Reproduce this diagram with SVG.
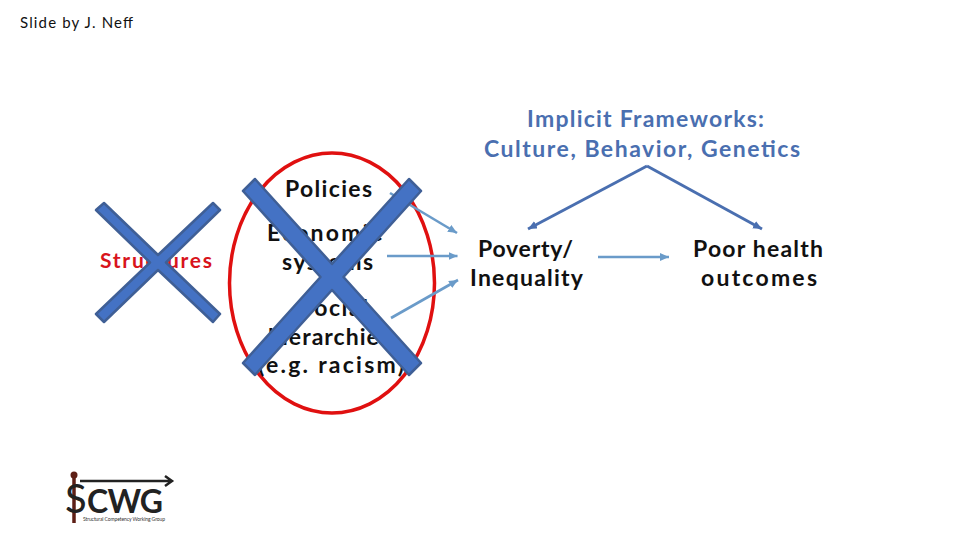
<svg xmlns="http://www.w3.org/2000/svg" width="960" height="540" viewBox="0 0 960 540">
<defs>
<marker id="a" markerUnits="userSpaceOnUse" markerWidth="12" markerHeight="10" refX="9" refY="4" orient="auto"><path d="M0 0L9 4L0 8Z" fill="#6a9bc9"/></marker>
<marker id="b" markerUnits="userSpaceOnUse" markerWidth="12" markerHeight="10" refX="9" refY="4" orient="auto"><path d="M0 0L9 4L0 8Z" fill="#4a6fb0"/></marker>
</defs>
<style>
text{font-family:"Lato","Liberation Sans",sans-serif;text-anchor:start;fill:#111;font-size:23px;font-weight:700}
.f{fill:#4a6fb0;font-size:23px}
.c{fill:#4472c4;stroke:#3f5f96;stroke-width:2.500;stroke-linejoin:round}
.l{fill:none;stroke:#6a9bc9;stroke-width:2.600;marker-end:url(#a)}
.k{fill:none;stroke:#4a6fb0;stroke-width:3;marker-end:url(#b)}
</style>
<rect width="960" height="540" fill="#fff"/>
<g id="credit"><text x="20" y="28" textLength="113" style="font-size:15px;font-weight:400">Slide by J. Neff</text></g>
<g id="frameworks"><text class="f" x="527" y="127" textLength="237">Implicit Frameworks:</text><text class="f" x="484" y="157" textLength="316">Culture, Behavior, Genetics</text></g>
<g id="structures"><text x="100" y="268" textLength="112" style="fill:#d8141c;font-size:21px">Structures</text></g>
<g id="ring"><ellipse cx="332" cy="283" rx="102.500" ry="130" fill="none" stroke="#e01010" stroke-width="3.500"/></g>
<g id="policies"><text x="285" y="197" textLength="87">Policies</text></g>
<g id="economic"><text x="267" y="241" textLength="115">Economic</text><text x="282" y="270" textLength="91">systems</text></g>
<g id="social"><text x="300" y="316" textLength="68">Social</text><text x="268" y="345" textLength="122">hierarchies</text><text x="258" y="373" textLength="146">(e.g. racism)</text></g>
<g id="poverty"><text x="478" y="257" textLength="95">Poverty/</text><text x="470" y="286" textLength="113">Inequality</text></g>
<g id="health"><text x="693" y="257" textLength="130">Poor health</text><text x="701" y="286" textLength="116">outcomes</text></g>
<g id="connectors">
<path class="l" d="M390 193L457 233"/>
<path class="l" d="M387 256H457.500"/>
<path class="l" d="M391 318L458 280"/>
<path class="l" d="M598 257H669"/>
<path class="k" d="M647 166L528 229"/>
<path class="k" d="M647 166L762 229"/>
</g>
<g id="cross-left"><path class="c" d="M96 210L104 203L158 255L213 203L220 210L166 262.500L220 314L213 322L158 270L104 322L96 314L150 262.500Z"/></g>
<g id="cross-right"><path class="c" d="M243 191L255 179L332 264L409 179L421 191L343.500 277L421 363L409 375L332 290L255 375L243 363L320.500 277Z"/></g>
<g id="logo">
<path d="M74 476V523" stroke="#5e1f16" stroke-width="3.500" fill="none"/>
<circle cx="74" cy="475" r="3.500" fill="#5e1f16"/>
<path d="M80 481H171M165 476L172 481L165 486" stroke="#222" stroke-width="2.500" fill="none"/>
<text x="65" y="513" style="font-size:40px;font-weight:400;fill:#222">S</text>
<text x="87" y="513" textLength="76" style="font-size:32px;fill:#222">CWG</text>
<text x="83" y="521" textLength="82" style="font-size:5px;font-weight:400;fill:#333">Structural Competency Working Group</text>
</g>
</svg>
